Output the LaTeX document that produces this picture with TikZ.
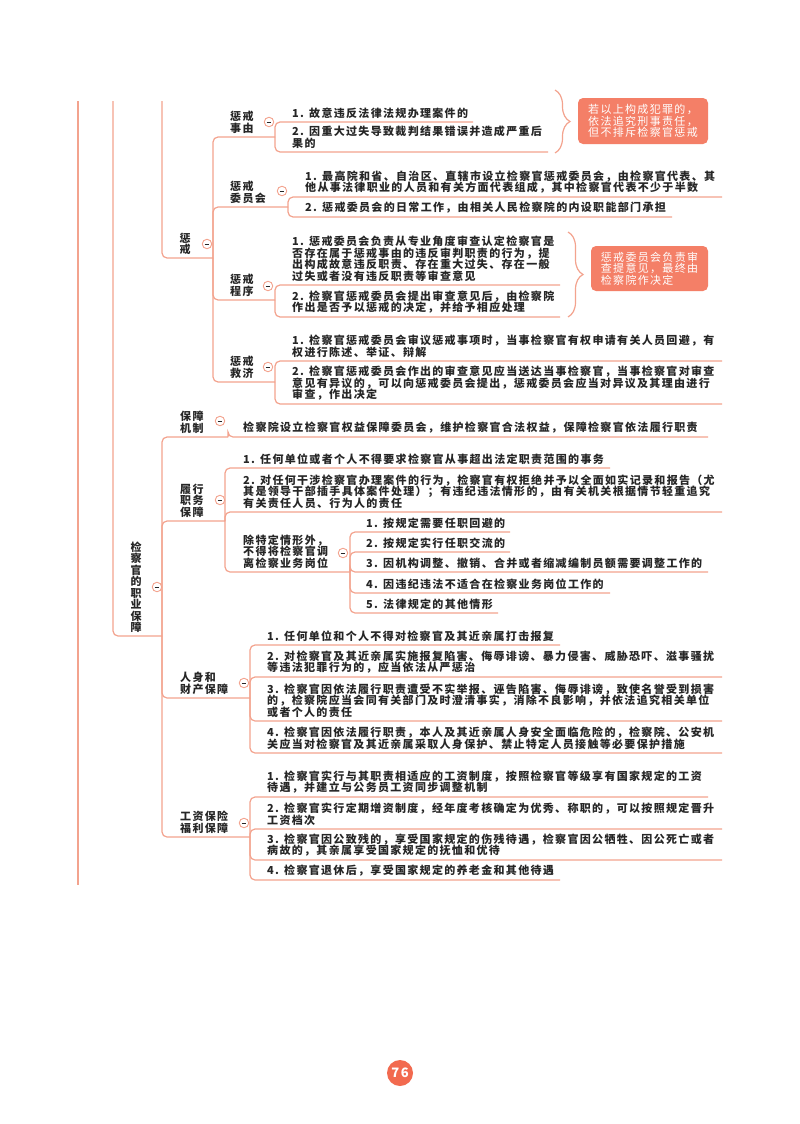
\documentclass[tikz,border=0pt]{standalone}
\usepackage{fontspec}
\setmainfont{Noto Sans CJK SC}[LetterSpace=12]
\usetikzlibrary{decorations.pathreplacing}
\definecolor{lc}{HTML}{F3A38E}
\definecolor{bc}{HTML}{F47F67}
\definecolor{pc}{HTML}{F26A4F}
\definecolor{tc}{HTML}{262626}
\tikzset{
  link/.style={draw=lc, line width=1.2pt, rounded corners=5pt},
  txt/.style={anchor=south west, inner xsep=0pt, inner ysep=3.5pt, align=left, text=tc,
    font=\fontsize{11}{11.5}\selectfont\bfseries},
  fold/.style={circle, draw=lc, fill=white, line width=0.9pt, minimum size=9.5pt, inner sep=0pt,
    path picture={\draw[tc, line width=1pt] ([xshift=-2.3pt]path picture bounding box.center)
      -- ([xshift=2.3pt]path picture bounding box.center);}},
  notebox/.style={fill=bc, rounded corners=5pt, text=white, align=left, inner sep=0pt,
    font=\fontsize{11}{11.5}\selectfont},
  brc/.style={draw=lc, line width=1.2pt, decorate, decoration={brace, amplitude=15pt}}
}
\begin{document}
\begin{tikzpicture}[x=1pt,y=-1pt]
    \fill[white] (0,0) rectangle (800,1124);
    \useasboundingbox (0,0) rectangle (800,1124);
    \coordinate (t1) at (78,101);
    \coordinate (t2) at (113,101);
    \coordinate (t3) at (162,101);
    \coordinate (b1) at (78,885);
    \coordinate (root) at (162,636);
    \coordinate (cj) at (213,258);
    \coordinate (cj1) at (275,137);
    \coordinate (cj2) at (288,207);
    \coordinate (cj3) at (275,300);
    \coordinate (cj4) at (275,382);
    \coordinate (a1) at (473,122);
    \coordinate (a2) at (548,152);
    \coordinate (b1e) at (722,197);
    \coordinate (b2e) at (672,217);
    \coordinate (c1) at (560,285);
    \coordinate (c2) at (560,317);
    \coordinate (d1) at (722,361);
    \coordinate (d2) at (722,404);
    \coordinate (bz) at (228,437);
    \coordinate (bz1) at (708,437);
    \coordinate (lx) at (225,521);
    \coordinate (e1) at (610,468);
    \coordinate (e2) at (722,512);
    \coordinate (e3) at (350,572);
    \coordinate (g1) at (510,532);
    \coordinate (g2) at (510,552);
    \coordinate (g3) at (708,572);
    \coordinate (g4) at (610,593);
    \coordinate (g5) at (498,613);
    \coordinate (rs) at (250,698);
    \coordinate (h1) at (560,645);
    \coordinate (h2) at (722,677);
    \coordinate (h3) at (722,721);
    \coordinate (h4) at (722,753);
    \coordinate (gz) at (250,837);
    \coordinate (k1) at (708,797);
    \coordinate (k2) at (722,829);
    \coordinate (k3) at (722,860);
    \coordinate (k4) at (560,880);
    \draw[link] (t1) -- (b1);
    \draw[link] (t2) |- (root);
    \draw[link] (t3) |- (cj);
    \foreach \p/\c in {cj/cj1,cj/cj2,cj/cj3,cj/cj4,cj1/a1,cj1/a2,cj2/b1e,cj2/b2e,
        cj3/c1,cj3/c2,cj4/d1,cj4/d2,root/bz,root/lx,root/rs,root/gz,bz/bz1,
        lx/e1,lx/e2,lx/e3,e3/g1,e3/g2,e3/g3,e3/g4,e3/g5,
        rs/h1,rs/h2,rs/h3,rs/h4,gz/k1,gz/k2,gz/k3,gz/k4}
        \draw[link] (\p) |- (\c);
    \foreach \n/\x/\y in {cj/207/244,cj1/269/122,cj2/282/191,cj3/268/286,cj4/268/367,
        root/157/587,bz/220/421,lx/220/500,e3/343/553,rs/244/683,gz/244/823}
        \node[fold] (f\n) at (\x,\y) {};
    \node[txt, anchor=center, align=center, inner sep=0pt] (cjt) at (185,244) {惩\\戒};
    \node[txt] (cj1t) at (230,137) {惩戒\\事由};
    \node[txt] (a1t) at (292,122) {1. 故意违反法律法规办理案件的};
    \node[txt] (a2t) at (292,152) {2. 因重大过失导致裁判结果错误并造成严重后\\果的};
    \node[txt] (cj2t) at (230,207) {惩戒\\委员会};
    \node[txt] (b1t) at (305,197) {1. 最高院和省、自治区、直辖市设立检察官惩戒委员会，由检察官代表、其\\他从事法律职业的人员和有关方面代表组成，其中检察官代表不少于半数};
    \node[txt] (b2t) at (305,217) {2. 惩戒委员会的日常工作，由相关人民检察院的内设职能部门承担};
    \node[txt] (cj3t) at (230,300) {惩戒\\程序};
    \node[txt] (c1t) at (292,285) {1. 惩戒委员会负责从专业角度审查认定检察官是\\否存在属于惩戒事由的违反审判职责的行为，提\\出构成故意违反职责、存在重大过失、存在一般\\过失或者没有违反职责等审查意见};
    \node[txt] (c2t) at (292,317) {2. 检察官惩戒委员会提出审查意见后，由检察院\\作出是否予以惩戒的决定，并给予相应处理};
    \node[txt] (cj4t) at (230,382) {惩戒\\救济};
    \node[txt] (d1t) at (292,361) {1. 检察官惩戒委员会审议惩戒事项时，当事检察官有权申请有关人员回避，有\\权进行陈述、举证、辩解};
    \node[txt] (d2t) at (292,404) {2. 检察官惩戒委员会作出的审查意见应当送达当事检察官，当事检察官对审查\\意见有异议的，可以向惩戒委员会提出，惩戒委员会应当对异议及其理由进行\\审查，作出决定};
    \draw[brc] (555,90) coordinate (br1a) -- (555,153) coordinate (br1b);
    \node[notebox, minimum width=130pt, minimum height=46pt] (n1) at (643,121) {若以上构成犯罪的，\\依法追究刑事责任，\\但不排斥检察官惩戒};
    \draw[brc] (568,232) coordinate (br2a) -- (568,317) coordinate (br2b);
    \node[notebox, minimum width=117pt, minimum height=45pt] (n2) at (649.5,268.5) {惩戒委员会负责审\\查提意见，最终由\\检察院作决定};
    \node[txt, anchor=center, align=center, inner sep=0pt] (rt) at (136,587) {检\\察\\官\\的\\职\\业\\保\\障};
    \node[txt] (bzt) at (180,437) {保障\\机制};
    \node[txt] (bz1t) at (243,437) {检察院设立检察官权益保障委员会，维护检察官合法权益，保障检察官依法履行职责};
    \node[txt] (lxt) at (180,521) {履行\\职务\\保障};
    \node[txt] (e1t) at (243,468) {1. 任何单位或者个人不得要求检察官从事超出法定职责范围的事务};
    \node[txt] (e2t) at (243,512) {2. 对任何干涉检察官办理案件的行为，检察官有权拒绝并予以全面如实记录和报告（尤\\其是领导干部插手具体案件处理）；有违纪违法情形的，由有关机关根据情节轻重追究\\有关责任人员、行为人的责任};
    \node[txt] (e3t) at (243,572) {除特定情形外，\\不得将检察官调\\离检察业务岗位};
    \node[txt] (g1t) at (366,532) {1. 按规定需要任职回避的};
    \node[txt] (g2t) at (366,552) {2. 按规定实行任职交流的};
    \node[txt] (g3t) at (366,572) {3. 因机构调整、撤销、合并或者缩减编制员额需要调整工作的};
    \node[txt] (g4t) at (366,593) {4. 因违纪违法不适合在检察业务岗位工作的};
    \node[txt] (g5t) at (366,613) {5. 法律规定的其他情形};
    \node[txt] (rst) at (180,698) {人身和\\财产保障};
    \node[txt] (h1t) at (267,645) {1. 任何单位和个人不得对检察官及其近亲属打击报复};
    \node[txt] (h2t) at (267,677) {2. 对检察官及其近亲属实施报复陷害、侮辱诽谤、暴力侵害、威胁恐吓、滋事骚扰\\等违法犯罪行为的，应当依法从严惩治};
    \node[txt] (h3t) at (267,721) {3. 检察官因依法履行职责遭受不实举报、诬告陷害、侮辱诽谤，致使名誉受到损害\\的，检察院应当会同有关部门及时澄清事实，消除不良影响，并依法追究相关单位\\或者个人的责任};
    \node[txt] (h4t) at (267,753) {4. 检察官因依法履行职责，本人及其近亲属人身安全面临危险的，检察院、公安机\\关应当对检察官及其近亲属采取人身保护、禁止特定人员接触等必要保护措施};
    \node[txt] (gzt) at (180,837) {工资保险\\福利保障};
    \node[txt] (k1t) at (267,797) {1. 检察官实行与其职责相适应的工资制度，按照检察官等级享有国家规定的工资\\待遇，并建立与公务员工资同步调整机制};
    \node[txt] (k2t) at (267,829) {2. 检察官实行定期增资制度，经年度考核确定为优秀、称职的，可以按照规定晋升\\工资档次};
    \node[txt] (k3t) at (267,860) {3. 检察官因公致残的，享受国家规定的伤残待遇，检察官因公牺牲、因公死亡或者\\病故的，其亲属享受国家规定的抚恤和优待};
    \node[txt] (k4t) at (267,880) {4. 检察官退休后，享受国家规定的养老金和其他待遇};
    \node[circle, fill=pc, minimum size=26pt, inner sep=0pt, text=white,
        font=\fontsize{13}{13}\selectfont\bfseries] (pg) at (400,1073) {76};
\end{tikzpicture}
\end{document}
